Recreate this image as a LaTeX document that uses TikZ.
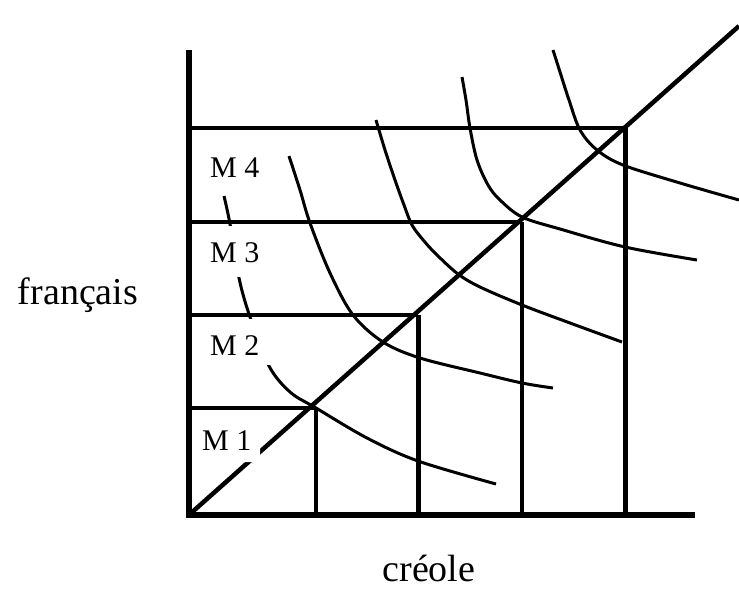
\documentclass[tikz,border=0pt]{standalone}
\usepackage{fontspec}
\setmainfont{Liberation Serif}
\begin{document}
\begin{tikzpicture}[x=1pt,y=-1pt,
  axisline/.style={line width=6pt},
  gridline/.style={line width=3.3pt},
  gridthick/.style={line width=5pt},
  diagline/.style={line width=4.5pt},
  icurve/.style={line width=3pt, line join=round},
  lbl/.style={font=\fontsize{30}{32}\selectfont, inner sep=0pt, anchor=base west},
  axlbl/.style={font=\fontsize{38}{40}\selectfont, inner sep=0pt, anchor=base},
  maskbox/.style={fill=white}]
\useasboundingbox (0,0) rectangle (739,590);
% axes
\coordinate (ytop) at (189,50);
\coordinate (ybot) at (189,518);
\coordinate (xl) at (186,515);
\coordinate (xr) at (695,515);
\draw[axisline] (ytop) -- (ybot);
\draw[axisline] (xl) -- (xr);
% grid corners
\coordinate (h1) at (189,408); \coordinate (k1) at (316,408); \coordinate (b1) at (316,515);
\coordinate (h2) at (189,315); \coordinate (k2) at (418,315); \coordinate (b2) at (418,515);
\coordinate (h3) at (189,222); \coordinate (k3) at (522,222); \coordinate (b3) at (522,515);
\coordinate (h4) at (189,128); \coordinate (k4) at (625,128); \coordinate (b4) at (625,515);
\draw[gridline] (h1) -- (k1); \draw[gridline] (k1) -- (b1);
\draw[gridline] (h2) -- (k2); \draw[gridthick] (k2) -- (b2);
\draw[gridline] (h3) -- (k3); \draw[gridline] (k3) -- (b3);
\draw[gridline] (h4) -- (k4); \draw[gridthick] (k4) -- (b4);
% diagonal
\coordinate (d0) at (190,514);
\coordinate (d1) at (739,26);
\draw[diagline] (d0) -- (d1);
% indifference curves
\draw[icurve] plot[smooth, tension=0.55] coordinates {(224,196) (230,224) (239,278) (250,317) (269,366) (290,392) (316,408) (367,438) (418,461) (496,484)};
\draw[icurve] plot[smooth, tension=0.55] coordinates {(289,156) (300,190) (310,223) (330,273) (353,315) (383,342) (420,358) (480,373) (522,383) (553,388)};
\draw[icurve] plot[smooth, tension=0.55] coordinates {(376,120) (385,150) (395,180) (404,205) (412,225) (424,241) (437,255) (458,274) (480,287) (522,305) (570,323) (622,342)};
\draw[icurve] plot[smooth, tension=0.55] coordinates {(462,77) (466,100) (470,128) (477,160) (488,185) (500,200) (522,217) (560,229) (625,247) (697,260)};
\draw[icurve] plot[smooth, tension=0.55] coordinates {(553,50) (560,72) (569,100) (580,130) (597,150) (623,165) (680,183) (739,200)};
% label masks
\fill[maskbox] (196,132) rectangle (262,195);
\fill[maskbox] (196,226) rectangle (262,277);
\fill[maskbox] (196,319) rectangle (270,365);
\fill[maskbox, rounded corners=2pt] (192,412) rectangle (260,462);
% labels
\node[lbl] (m4) at (210,177) {M 4};
\node[lbl] (m3) at (210,262) {M 3};
\node[lbl] (m2) at (210,355) {M 2};
\node[lbl] (m1) at (202,450) {M 1};
\node[axlbl] (fr) at (78,304) {français};
\node[axlbl] (cr) at (429,581) {créole};
\end{tikzpicture}
\end{document}
